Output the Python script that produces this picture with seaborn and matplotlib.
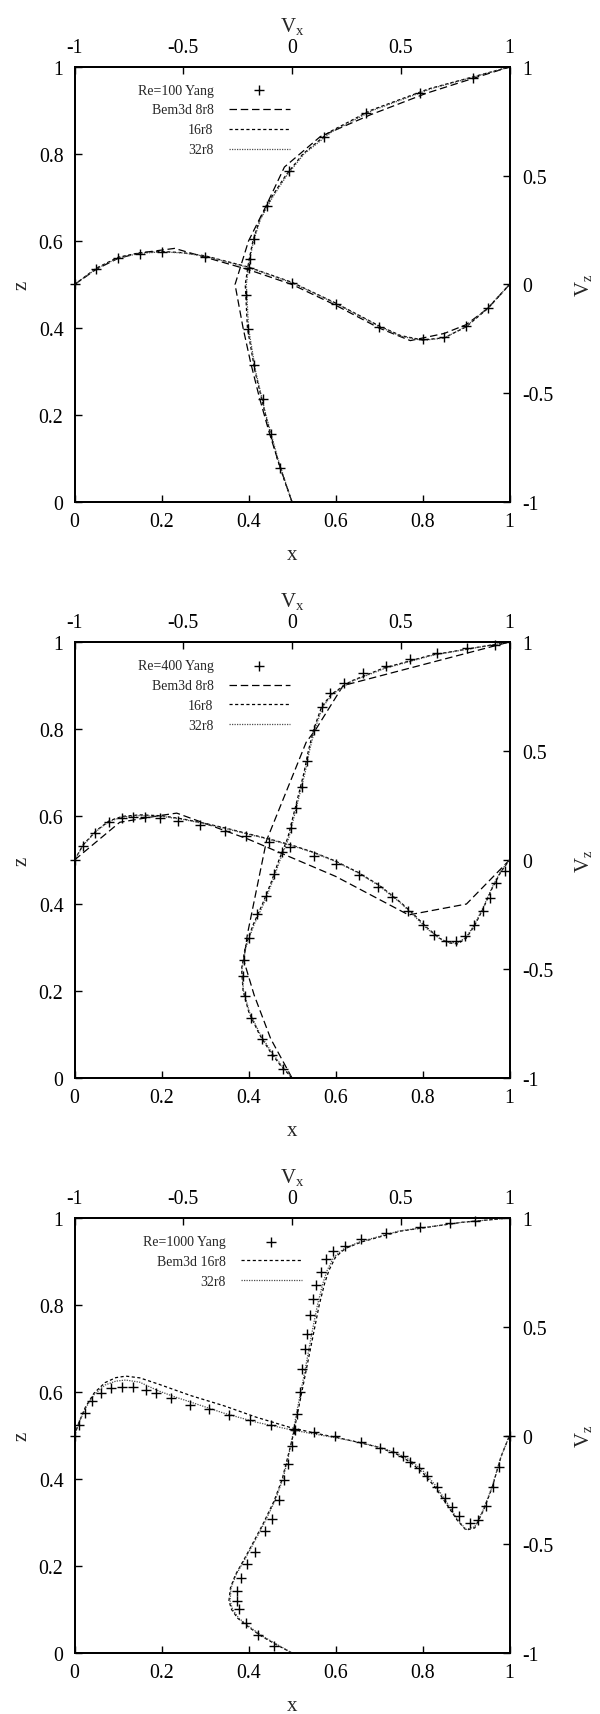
import numpy as np
import pandas as pd
import seaborn as sns
import matplotlib.pyplot as plt

# ---------------- data ----------------
x_ticks = [0, 0.2, 0.4, 0.6, 0.8, 1]
x_ticklabels = ["0", "0.2", "0.4", "0.6", "0.8", "1"]
v_ticks = [-1, -0.5, 0, 0.5, 1]
v_ticklabels = ["-1", "-0.5", "0", "0.5", "1"]

# Re = 100 : vertical centre line (z, Vx) and horizontal centre line (x, Vz)
re100_yang_z = [0.077, 0.156, 0.237, 0.316, 0.398, 0.476, 0.559, 0.605, 0.680, 0.760, 0.840, 0.895, 0.940, 0.975]
re100_yang_vx = [-0.053, -0.096, -0.135, -0.175, -0.202, -0.211, -0.193, -0.175, -0.114, -0.014, 0.146, 0.342, 0.588, 0.830]
re100_yang_x = [0, 0.05, 0.1, 0.15, 0.2, 0.3, 0.4, 0.5, 0.6, 0.7, 0.8, 0.85, 0.9, 0.95]
re100_yang_vz = [0, 0.071, 0.123, 0.142, 0.148, 0.128, 0.074, 0.005, -0.090, -0.194, -0.251, -0.240, -0.189, -0.108]

re100_8r8_z = [0, 0.08, 0.16, 0.24, 0.32, 0.40, 0.50, 0.60, 0.68, 0.77, 0.84, 0.89, 0.94, 0.975, 1]
re100_8r8_vx = [0, -0.055, -0.105, -0.15, -0.19, -0.225, -0.262, -0.20, -0.12, -0.035, 0.13, 0.36, 0.62, 0.84, 1]
re100_8r8_x = [0, 0.05, 0.1, 0.15, 0.23, 0.4, 0.5, 0.6, 0.7, 0.772, 0.85, 0.9, 0.95, 1]
re100_8r8_vz = [0, 0.07, 0.12, 0.145, 0.166, 0.068, 0.0, -0.095, -0.2, -0.258, -0.225, -0.185, -0.11, 0]

re100_16r8_z = [0, 0.05, 0.1, 0.2, 0.3, 0.4, 0.5, 0.55, 0.6, 0.65, 0.7, 0.75, 0.8, 0.85, 0.9, 0.95, 1]
re100_16r8_vx = [0, -0.035, -0.068, -0.122, -0.170, -0.205, -0.215, -0.200, -0.180, -0.148, -0.095, -0.03, 0.05, 0.17, 0.36, 0.63, 1]
re100_16r8_x = [0, 0.05, 0.1, 0.15, 0.2, 0.25, 0.3, 0.4, 0.5, 0.6, 0.7, 0.75, 0.8, 0.85, 0.9, 0.95, 1]
re100_16r8_vz = [0, 0.075, 0.125, 0.146, 0.152, 0.146, 0.132, 0.08, 0.01, -0.085, -0.19, -0.235, -0.255, -0.245, -0.195, -0.11, 0]

re100_32r8_z = [0, 0.05, 0.1, 0.2, 0.3, 0.4, 0.5, 0.55, 0.6, 0.65, 0.7, 0.75, 0.8, 0.85, 0.9, 0.95, 1]
re100_32r8_vx = [0, -0.033, -0.065, -0.12, -0.167, -0.2, -0.21, -0.197, -0.177, -0.145, -0.09, -0.025, 0.055, 0.18, 0.37, 0.64, 1]
re100_32r8_x = [0, 0.05, 0.1, 0.15, 0.2, 0.25, 0.3, 0.4, 0.5, 0.6, 0.7, 0.75, 0.8, 0.85, 0.9, 0.95, 1]
re100_32r8_vz = [0, 0.072, 0.122, 0.143, 0.150, 0.145, 0.130, 0.078, 0.008, -0.087, -0.192, -0.238, -0.257, -0.246, -0.193, -0.108, 0]

# Re = 400
re400_yang_z = [0.021, 0.053, 0.089, 0.138, 0.187, 0.235, 0.271, 0.321, 0.375, 0.417, 0.467, 0.518, 0.573, 0.619,
                0.668, 0.728, 0.798, 0.852, 0.883, 0.906, 0.929, 0.946, 0.961, 0.974, 0.986, 0.993]
re400_yang_vx = [-0.040, -0.091, -0.139, -0.188, -0.214, -0.225, -0.219, -0.198, -0.162, -0.118, -0.083, -0.044, -0.004,
                 0.018, 0.044, 0.070, 0.102, 0.137, 0.175, 0.237, 0.328, 0.430, 0.544, 0.667, 0.804, 0.935]
re400_yang_x = [0, 0.020, 0.046, 0.079, 0.108, 0.134, 0.162, 0.197, 0.239, 0.289, 0.347, 0.395, 0.447, 0.496, 0.55,
                0.601, 0.653, 0.697, 0.730, 0.766, 0.8, 0.826, 0.853, 0.877, 0.897, 0.918, 0.939, 0.954, 0.969, 0.989]
re400_yang_vz = [0, 0.066, 0.124, 0.173, 0.191, 0.196, 0.199, 0.191, 0.177, 0.161, 0.135, 0.109, 0.081, 0.058, 0.020,
                 -0.018, -0.067, -0.122, -0.171, -0.232, -0.298, -0.344, -0.370, -0.370, -0.347, -0.298, -0.232, -0.174,
                 -0.107, -0.052]

re400_8r8_z = [0, 0.09, 0.19, 0.27, 0.33, 0.545, 0.77, 0.80, 0.90, 1]
re400_8r8_vx = [0, -0.098, -0.174, -0.222, -0.205, -0.117, 0.065, 0.11, 0.235, 1]
re400_8r8_x = [0, 0.104, 0.2, 0.235, 0.4, 0.6, 0.768, 0.901, 1]
re400_8r8_vz = [0, 0.173, 0.205, 0.215, 0.095, -0.075, -0.252, -0.202, 0]

re400_16r8_z = [0, 0.03, 0.06, 0.1, 0.15, 0.2, 0.25, 0.3, 0.35, 0.4, 0.45, 0.5, 0.55, 0.6, 0.65, 0.7, 0.75, 0.8,
                0.85, 0.88, 0.91, 0.94, 0.97, 1]
re400_16r8_vx = [0, -0.055, -0.1, -0.15, -0.198, -0.225, -0.232, -0.215, -0.18, -0.135, -0.095, -0.06, -0.02, 0.005,
                 0.03, 0.055, 0.075, 0.1, 0.135, 0.18, 0.27, 0.42, 0.64, 1]
re400_16r8_x = [0, 0.02, 0.05, 0.08, 0.11, 0.15, 0.2, 0.25, 0.3, 0.35, 0.4, 0.45, 0.5, 0.55, 0.6, 0.65, 0.7, 0.75,
                0.78, 0.81, 0.84, 0.86, 0.88, 0.9, 0.92, 0.94, 0.96, 0.98, 1]
re400_16r8_vz = [0, 0.07, 0.135, 0.18, 0.2, 0.207, 0.203, 0.188, 0.168, 0.145, 0.12, 0.095, 0.068, 0.035, -0.005,
                 -0.055, -0.115, -0.195, -0.25, -0.31, -0.36, -0.38, -0.385, -0.36, -0.3, -0.22, -0.13, -0.055, 0]

re400_32r8_z = re400_16r8_z
re400_32r8_vx = [0, -0.05, -0.095, -0.146, -0.195, -0.223, -0.23, -0.212, -0.176, -0.13, -0.09, -0.055, -0.015, 0.01,
                 0.035, 0.06, 0.08, 0.105, 0.14, 0.185, 0.275, 0.43, 0.65, 1]
re400_32r8_x = re400_16r8_x
re400_32r8_vz = [0, 0.068, 0.132, 0.177, 0.197, 0.204, 0.2, 0.186, 0.166, 0.143, 0.118, 0.093, 0.066, 0.033, -0.007,
                 -0.057, -0.118, -0.198, -0.255, -0.315, -0.362, -0.378, -0.38, -0.355, -0.295, -0.215, -0.125, -0.05, 0]

# Re = 1000
re1000_yang_z = [0.017, 0.041, 0.069, 0.100, 0.119, 0.143, 0.172, 0.205, 0.233, 0.280, 0.308, 0.352, 0.397, 0.434,
                 0.475, 0.513, 0.549, 0.600, 0.653, 0.699, 0.733, 0.776, 0.814, 0.845, 0.876, 0.906, 0.925, 0.936,
                 0.952, 0.966, 0.979, 0.988, 0.992]
re1000_yang_vx = [-0.084, -0.158, -0.211, -0.242, -0.251, -0.251, -0.233, -0.205, -0.170, -0.126, -0.093, -0.062,
                  -0.035, -0.018, 0.0, 0.012, 0.021, 0.035, 0.047, 0.058, 0.070, 0.082, 0.096, 0.111, 0.132, 0.154,
                  0.188, 0.242, 0.316, 0.433, 0.588, 0.728, 0.842]
re1000_yang_x = [0, 0.0105, 0.024, 0.041, 0.061, 0.085, 0.108, 0.134, 0.164, 0.187, 0.222, 0.266, 0.31, 0.355, 0.403,
                 0.452, 0.504, 0.551, 0.599, 0.658, 0.703, 0.732, 0.754, 0.772, 0.791, 0.811, 0.833, 0.851, 0.867,
                 0.884, 0.910, 0.927, 0.945, 0.961, 0.976, 1]
re1000_yang_vz = [0, 0.048, 0.103, 0.157, 0.194, 0.220, 0.224, 0.221, 0.209, 0.195, 0.172, 0.142, 0.122, 0.096, 0.073,
                  0.050, 0.030, 0.015, 0.0, -0.031, -0.057, -0.077, -0.096, -0.120, -0.151, -0.185, -0.238, -0.287,
                  -0.327, -0.369, -0.404, -0.389, -0.326, -0.238, -0.143, 0]

re1000_16r8_z = [0, 0.02, 0.04, 0.06, 0.08, 0.1, 0.12, 0.15, 0.18, 0.22, 0.26, 0.3, 0.35, 0.4, 0.45, 0.5, 0.55, 0.6,
                 0.65, 0.7, 0.75, 0.8, 0.85, 0.88, 0.91, 0.93, 0.945, 0.97, 0.99, 1]
re1000_16r8_vx = [0, -0.075, -0.145, -0.2, -0.25, -0.278, -0.29, -0.283, -0.26, -0.215, -0.172, -0.13, -0.082, -0.045,
                  -0.02, 0.005, 0.025, 0.045, 0.065, 0.085, 0.105, 0.125, 0.15, 0.17, 0.2, 0.245, 0.32, 0.5, 0.78, 1]
re1000_16r8_x = [0, 0.01, 0.025, 0.045, 0.07, 0.095, 0.118, 0.15, 0.192, 0.23, 0.268, 0.343, 0.418, 0.494, 0.55, 0.6,
                 0.65, 0.7, 0.74, 0.77, 0.8, 0.83, 0.86, 0.88, 0.9, 0.92, 0.94, 0.96, 0.98, 1]
re1000_16r8_vz = [0, 0.06, 0.13, 0.195, 0.243, 0.266, 0.273, 0.265, 0.237, 0.21, 0.183, 0.137, 0.084, 0.038, 0.012,
                  -0.008, -0.03, -0.055, -0.085, -0.12, -0.17, -0.24, -0.33, -0.39, -0.435, -0.425, -0.345, -0.24,
                  -0.1, 0]

re1000_32r8_z = re1000_16r8_z
re1000_32r8_vx = [0, -0.07, -0.14, -0.195, -0.245, -0.273, -0.285, -0.28, -0.257, -0.212, -0.168, -0.126, -0.078,
                  -0.042, -0.017, 0.003, 0.02, 0.04, 0.06, 0.078, 0.097, 0.117, 0.142, 0.162, 0.192, 0.24, 0.31,
                  0.49, 0.78, 1]
re1000_32r8_x = re1000_16r8_x
re1000_32r8_vz = [0, 0.058, 0.125, 0.188, 0.232, 0.25, 0.255, 0.245, 0.206, 0.178, 0.153, 0.103, 0.061, 0.028, 0.007,
                  -0.01, -0.03, -0.053, -0.08, -0.112, -0.16, -0.23, -0.32, -0.385, -0.432, -0.42, -0.34, -0.235,
                  -0.1, 0]

# line styles of the Bem3d runs (gnuplot-like)
styles = {
    "8r8": dict(linestyle=(0, (6, 3)), color="k", linewidth=0.9),
    "16r8": dict(linestyle=(0, (2.5, 2)), color="k", linewidth=0.9),
    "32r8": dict(linestyle=(0, (1, 1)), color="0.3", linewidth=0.9),
}

panels = [
    dict(rect=[0.1242, 0.70671, 0.725, 0.25364], yang_label="Re=100 Yang",
         yang=(re100_yang_z, re100_yang_vx, re100_yang_x, re100_yang_vz),
         runs=[("8r8", "Bem3d 8r8", re100_8r8_z, re100_8r8_vx, re100_8r8_x, re100_8r8_vz),
               ("16r8", "16r8", re100_16r8_z, re100_16r8_vx, re100_16r8_x, re100_16r8_vz),
               ("32r8", "32r8", re100_32r8_z, re100_32r8_vx, re100_32r8_x, re100_32r8_vz)],
         anchor=(0.495, 0.962)),
    dict(rect=[0.1242, 0.37085, 0.725, 0.25423], yang_label="Re=400 Yang",
         yang=(re400_yang_z, re400_yang_vx, re400_yang_x, re400_yang_vz),
         runs=[("8r8", "Bem3d 8r8", re400_8r8_z, re400_8r8_vx, re400_8r8_x, re400_8r8_vz),
               ("16r8", "16r8", re400_16r8_z, re400_16r8_vx, re400_16r8_x, re400_16r8_vz),
               ("32r8", "32r8", re400_32r8_z, re400_32r8_vx, re400_32r8_x, re400_32r8_vz)],
         anchor=(0.495, 0.96)),
    dict(rect=[0.1242, 0.03557, 0.725, 0.25364], yang_label="Re=1000 Yang",
         yang=(re1000_yang_z, re1000_yang_vx, re1000_yang_x, re1000_yang_vz),
         runs=[("16r8", "Bem3d 16r8", re1000_16r8_z, re1000_16r8_vx, re1000_16r8_x, re1000_16r8_vz),
               ("32r8", "32r8", re1000_32r8_z, re1000_32r8_vx, re1000_32r8_x, re1000_32r8_vz)],
         anchor=(0.523, 0.96)),
]

# ---------------- style ----------------
sns.set_style("ticks")
plt.rcParams["font.family"] = ["Liberation Serif", "DejaVu Serif"]
plt.rcParams["mathtext.fontset"] = "custom"
plt.rcParams["mathtext.rm"] = "Liberation Serif"
plt.rcParams["mathtext.it"] = "Liberation Serif:italic"
plt.rcParams["axes.unicode_minus"] = False

tick_fs = 14.3
label_fs = 15

fig = plt.figure(figsize=(6, 17.15), dpi=100)

for p in panels:
    ax = fig.add_axes(p["rect"])
    axv = ax.twiny()   # Vx on top, shares z
    axh = ax.twinx()   # Vz on right, shares x

    handles, labels = [], []
    yz, yvx, yx, yvz = p["yang"]
    sns.scatterplot(x=yvx, y=yz, marker="+", s=45, color="k", linewidth=1, ax=axv,
                    clip_on=False, zorder=5, legend=False)
    sns.scatterplot(x=yx, y=yvz, marker="+", s=45, color="k", linewidth=1, ax=axh,
                    clip_on=False, zorder=5, legend=False)
    handles.append(axh.collections[-1])
    labels.append(p["yang_label"])

    for key, lab, rz, rvx, rx, rvz in p["runs"]:
        sns.lineplot(x=rvx, y=rz, sort=False, estimator=None, ax=axv, **styles[key])
        sns.lineplot(x=rx, y=rvz, sort=False, estimator=None, ax=axh, **styles[key])
        handles.append(axh.lines[-1])
        labels.append(lab)

    ax.set_xlim(0, 1)
    ax.set_ylim(0, 1)
    axv.set_xlim(-1, 1)
    axh.set_ylim(-1, 1)

    ax.set_xticks(x_ticks, x_ticklabels)
    ax.set_yticks(x_ticks, x_ticklabels)
    axv.set_xticks(v_ticks, v_ticklabels)
    axh.set_yticks(v_ticks, v_ticklabels)

    for a in (ax, axv, axh):
        a.tick_params(direction="in", length=5.3, width=1, labelsize=tick_fs, colors="k", pad=8)
        for s in a.spines.values():
            s.set_linewidth(1.2)
            s.set_color("k")
    ax.tick_params(axis="x", pad=7)
    axv.tick_params(axis="x", pad=7.5)
    axh.tick_params(axis="y", pad=9)

    ax.set_xlabel("x", fontsize=label_fs, labelpad=10)
    ax.set_ylabel("z", fontsize=label_fs, labelpad=5)
    axv.set_xlabel(r"V$_{\mathrm{x}}$", fontsize=label_fs, labelpad=5)
    axh.set_ylabel(r"V$_{\mathrm{z}}$", fontsize=label_fs, labelpad=14)

    leg = axh.legend(handles, labels, loc="upper right", bbox_to_anchor=p["anchor"],
                     frameon=False, markerfirst=False, fontsize=10, handlelength=4.4,
                     handletextpad=1.1, borderpad=0, borderaxespad=0, labelspacing=0.5,
                     scatterpoints=1)

fig.savefig("out.png", dpi=100)
